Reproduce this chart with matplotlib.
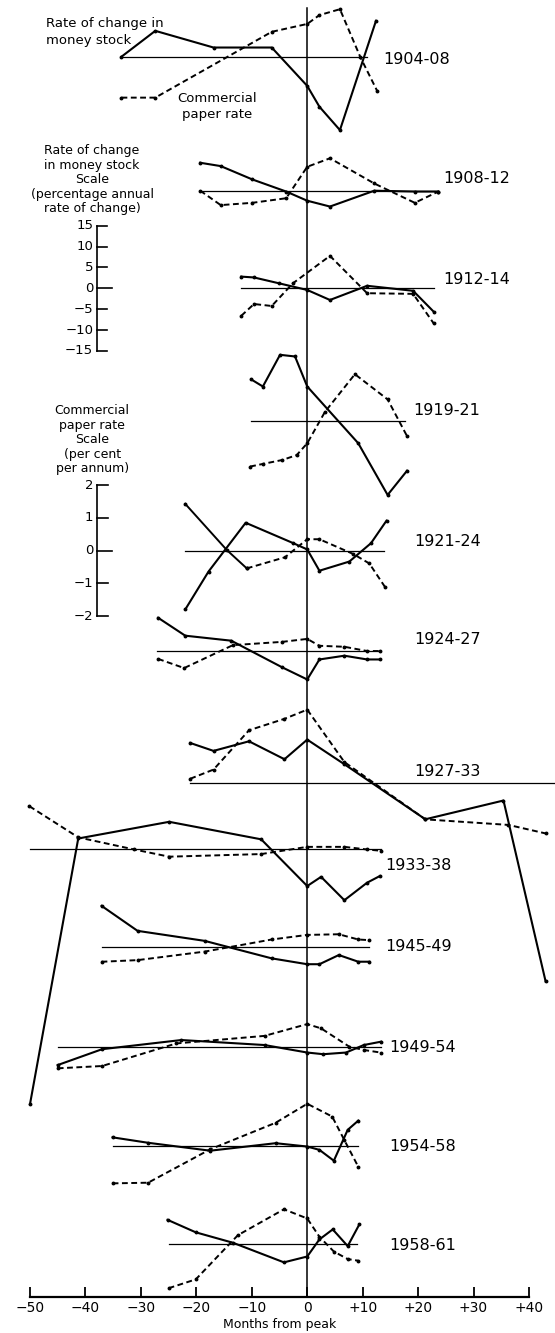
import matplotlib.pyplot as plt

# Reference cycles, top to bottom
cycles = ['1904-08', '1908-12', '1912-14', '1919-21', '1921-24', '1924-27',
          '1927-33', '1933-38', '1945-49', '1949-54', '1954-58', '1958-61']

# Rate of change in money stock (percentage annual rate), months from peak
ms_months = [
    [-33.5, -27.4, -16.9, -6.4, 0, 2.2, 5.9, 12.4],
    [-19.3, -15.6, -9.9, -3.8, 0, 4.1, 12.1, 19.4, 23.6],
    [-11.9, -9.6, -5.1, 0, 4.1, 10.8, 19.1, 22.8],
    [-10.1, -8.0, -4.9, -2.2, 0, 9.2, 14.5, 18.0],
    [-22.0, -17.8, -11.1, -2.5, 0, 2.2, 7.6, 11.5, 14.3],
    [-26.9, -22.0, -13.7, -4.5, 0, 2.2, 6.7, 10.8, 13.1],
    [-21.1, -16.9, -10.5, -4.1, 0, 6.7, 21.3, 35.4, 43.0],
    [-50.0, -41.3, -24.9, -8.3, 0, 2.5, 6.7, 10.8, 13.1],
    [-37.1, -30.6, -18.5, -6.4, 0, 2.2, 5.7, 9.2, 11.2],
    [-45.0, -37.0, -22.7, -7.7, 0, 2.9, 7.0, 10.2, 13.3],
    [-35.1, -28.7, -17.5, -5.7, 0, 2.2, 4.8, 7.3, 9.2],
    [-25.2, -20.1, -13.4, -4.2, 0, 2.2, 4.6, 7.3, 9.4],
]
ms_values = [
    [0, 6.2, 2.2, 2.2, -7.0, -12.0, -17.6, 8.6],
    [6.7, 5.9, 2.7, -0.2, -2.4, -3.8, 0, -0.2, -0.2],
    [2.8, 2.6, 1.2, -0.4, -2.8, 0.6, -0.6, -5.6],
    [9.9, 8.2, 15.8, 15.4, 8.2, -5.4, -17.8, -12.0],
    [-14.1, -5.0, 6.7, 1.8, 0.3, -4.8, -2.6, 1.8, 7.2],
    [7.9, 3.6, 2.4, -4.0, -6.9, -2.1, -1.2, -2.1, -2.1],
    [9.6, 7.7, 10.0, 5.7, 10.4, 4.5, -8.7, -4.2, -47.6],
    [-61.3, 2.4, 6.4, 2.2, -9.0, -6.8, -12.4, -8.2, -6.6],
    [9.8, 3.8, 1.4, -2.8, -4.2, -4.2, -2.0, -3.6, -3.6],
    [-4.4, -0.6, 1.6, 0.4, -1.4, -1.8, -1.4, 0.4, 1.2],
    [2.0, 0.7, -1.2, 0.6, -0.2, -1.0, -3.6, 3.8, 6.0],
    [5.8, 2.8, 0.3, -4.4, -3.0, 1.1, 3.5, -0.5, 4.7],
]

# Commercial paper rate (deviation, per cent per annum)
cp_months = [
    [-33.5, -27.4, -6.4, 0, 2.2, 5.9, 9.6, 12.6],
    [-19.3, -15.6, -9.9, -3.8, 0, 4.1, 12.1, 19.4, 23.6],
    [-11.9, -9.6, -6.4, -2.6, 4.1, 10.8, 19.1, 22.8],
    [-10.3, -8.0, -4.5, -1.9, 0, 3.2, 8.6, 14.5, 18.0],
    [-22.0, -14.5, -10.9, -4.0, 0, 2.2, 8.3, 11.2, 14.0],
    [-26.9, -22.2, -13.4, -4.5, 0, 2.2, 6.7, 10.8, 13.1],
    [-21.1, -16.9, -10.5, -4.1, 0, 6.7, 21.3, 36.3, 43.0],
    [-50.1, -41.3, -31.2, -24.9, -8.3, 0, 6.7, 10.8, 13.3],
    [-37.1, -30.6, -18.5, -6.4, 0, 5.7, 9.2, 11.2],
    [-45.0, -37.0, -23.6, -7.7, 0, 2.5, 7.6, 10.2, 13.3],
    [-35.1, -28.7, -17.5, -5.7, 0, 4.5, 6.7, 9.2],
    [-25.0, -20.1, -12.5, -4.2, 0, 2.2, 4.8, 7.3, 9.2],
]
cp_values = [
    [-1.25, -1.25, 0.76, 1.0, 1.27, 1.45, -0.02, -1.04],
    [0, -0.44, -0.37, -0.23, 0.73, 0.99, 0.22, -0.37, -0.03],
    [-0.84, -0.48, -0.54, 0.15, 0.99, -0.15, -0.17, -1.07],
    [-1.40, -1.32, -1.20, -1.05, -0.69, 0.27, 1.42, 0.65, -0.47],
    [1.43, 0.02, -0.54, -0.20, 0.35, 0.35, -0.10, -0.39, -1.10],
    [-0.25, -0.53, 0.17, 0.27, 0.36, 0.15, 0.12, -0.01, -0.01],
    [0.13, 0.41, 1.61, 1.96, 2.24, 0.64, -1.11, -1.28, -1.54],
    [1.29, 0.34, -0.03, -0.25, -0.17, 0.05, 0.05, -0.03, -0.07],
    [-0.46, -0.41, -0.15, 0.22, 0.36, 0.38, 0.22, 0.20],
    [-0.66, -0.59, 0.10, 0.33, 0.69, 0.56, 0, -0.10, -0.18],
    [-1.15, -1.13, -0.11, 0.70, 1.28, 0.89, 0.17, -0.64],
    [-1.35, -1.08, 0.27, 1.06, 0.78, 0.22, -0.23, -0.46, -0.51],
]

ms_scale_ticks = [15, 10, 5, 0, -5, -10, -15]
cp_scale_ticks = [2, 1, 0, -1, -2]
x_ticks = [-50, -40, -30, -20, -10, 0, 10, 20, 30, 40]
x_ticklabels = ['\u221250', '\u221240', '\u221230', '\u221220', '\u221210',
                '0', '+10', '+20', '+30', '+40']

# Layout (vertical units are pixel rows from the top)
base_rows = [56.7, 190.7, 288.3, 420.7, 550.7, 650.7, 783.0, 848.5, 946.7,
             1046.7, 1145.7, 1244.0]
base_span = [(-33.5, 10.8), (-19.3, 23.6), (-11.9, 22.8), (-10.1, 17.7),
             (-22.0, 13.9), (-27.1, 13.1), (-21.1, 44.7), (-50.0, 13.3),
             (-37.1, 11.2), (-45.0, 13.3), (-35.1, 9.2), (-25.0, 9.0)]
label_x = [13.7, 24.5, 24.5, 19.1, 19.3, 19.3, 19.3, 14.0, 14.0, 14.8, 14.8, 14.8]
label_y = [59.3, 178.3, 279.3, 410.7, 541, 640, 771.7, 866, 946.7, 1047.3,
           1146.7, 1245]
# paper-rate segments drawn as full line at the start (as inked in the original)
cp_solid_lead = [0, 0, 0, 0, 2, 0, 0, 0, 0, 0, 0, 0]
MS_PX = 4.17     # rows per percentage point of money-stock change
CP_PX = 32.75    # rows per percentage point of paper rate
AXIS_ROW = 1296.7

fig = plt.figure(figsize=(5.55, 13.33), dpi=100)
ax = fig.add_axes([30 / 555, (1333 - AXIS_ROW) / 1333, 499 / 555, AXIS_ROW / 1333])
ax.patch.set_visible(False)
ax.set_xlim(-50, 40)
ax.set_ylim(AXIS_ROW, 0)
for s in ['top', 'right', 'left']:
    ax.spines[s].set_visible(False)
ax.spines['bottom'].set_linewidth(1.6)
ax.set_yticks([])
ax.set_xticks(x_ticks)
ax.set_xticklabels(x_ticklabels)
ax.tick_params(axis='x', direction='in', length=7, width=1.3, pad=3, labelsize=10)
ax.set_xlabel('Months from peak', fontsize=9, labelpad=2)

# peak line
ax.plot([0, 0], [8, AXIS_ROW], color='black', lw=1.1, clip_on=False)

dash = (0, (3, 1.8))
for i, name in enumerate(cycles):
    b = base_rows[i]
    ax.plot(base_span[i], [b, b], color='black', lw=0.9, clip_on=False)
    ax.plot(ms_months[i], [b - v * MS_PX for v in ms_values[i]], color='black',
            lw=1.5, marker='o', ms=1.8, clip_on=False)
    cp_rows = [b - v * CP_PX for v in cp_values[i]]
    k = cp_solid_lead[i]
    if k:
        ax.plot(cp_months[i][:k + 1], cp_rows[:k + 1], color='black', lw=1.4,
                marker='o', ms=1.8, clip_on=False)
    ax.plot(cp_months[i][k:], cp_rows[k:], color='black',
            lw=1.4, ls=dash, marker='o', ms=1.8, clip_on=False)
    ax.text(label_x[i], label_y[i], name, fontsize=11.5, ha='left', va='center')

# scale bars on the left
def scale_bar(ticks, per, zero_row, tick_end):
    xa = -37.97
    rows = [zero_row - t * per for t in ticks]
    ax.plot([xa, xa], [rows[0], rows[-1]], color='black', lw=1.2, clip_on=False)
    for t, r in zip(ticks, rows):
        end = -35.26 if t == 0 else tick_end
        ax.plot([xa, end], [r, r], color='black', lw=1.2, clip_on=False)
        lab = str(t).replace('-', '\u2212')
        ax.text(-38.6, r, lab, fontsize=9.5, ha='right', va='center')

scale_bar(ms_scale_ticks, MS_PX, base_rows[2], -36.17)
scale_bar(cp_scale_ticks, CP_PX, base_rows[4], -35.88)

ax.text(-47.1, 32, 'Rate of change in\nmoney stock', fontsize=9.5,
        ha='left', va='center', linespacing=1.35)
ax.text(-16.2, 106.7, 'Commercial\npaper rate', fontsize=9.5,
        ha='center', va='center', linespacing=1.3)
ax.text(-38.8, 179.7, 'Rate of change\nin money stock\nScale\n(percentage annual\nrate of change)',
        fontsize=9, ha='center', va='center', linespacing=1.15)
ax.text(-38.8, 439.7, 'Commercial\npaper rate\nScale\n(per cent\nper annum)',
        fontsize=9, ha='center', va='center', linespacing=1.15)

fig.savefig('out.png', dpi=100)
